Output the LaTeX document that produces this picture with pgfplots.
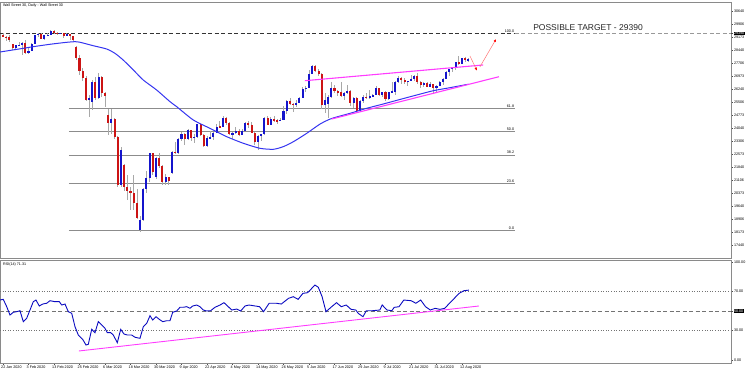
\documentclass[border=0pt]{standalone}
\usepackage{fontspec}
\setmainfont{Liberation Sans}
\usepackage{pgfplots}
\usepackage{pgfplotstable}
\pgfplotsset{compat=1.18}
\usetikzlibrary{arrows.meta}
\definecolor{bull}{HTML}{1414CC}
\definecolor{bear}{HTML}{CC1414}
\definecolor{wick}{HTML}{A8A8A8}
\definecolor{mablue}{HTML}{3535F0}
\definecolor{rsiblue}{HTML}{0A0AC0}
\definecolor{pinkl}{HTML}{FF3CFF}
\definecolor{fibgray}{HTML}{8C8C8C}
\definecolor{framegray}{HTML}{8A8A8A}
\newcommand{\tinyf}{\fontsize{3.7}{4.2}\selectfont}

\pgfplotstableread{
i O H L C
0 29300 29390 29160 29190
1 29190 29240 28980 29160
2 29160 29280 28900 28990
3 28800 28820 28440 28560
4 28560 28760 28520 28720
5 28720 28880 28680 28740
6 28740 28890 28170 28860
7 28860 28990 28200 28260
8 28260 28560 28250 28400
9 28400 28840 28400 28810
10 28810 29320 28800 29290
11 29290 29410 29200 29380
12 29380 29390 29050 29100
13 29100 29300 29020 29280
14 29280 29420 29230 29290
15 29290 29570 29280 29550
16 29550 29560 29350 29420
17 29420 29460 29310 29400
18 29400 29440 29370 29410
19 29410 29420 29140 29230
20 29230 29410 29230 29350
21 29350 29380 29030 29220
22 29220 29230 28940 28990
23 28640 28700 27900 28000
24 28000 28150 27050 27250
25 27250 27450 26700 26850
26 26850 27000 25550 25650
27 25650 25900 24680 25720
28 25500 26750 25050 26650
29 26650 26900 25650 25750
30 25750 27150 25700 26950
31 26950 27000 25800 26000
32 26000 26100 25230 25850
33 24780 25100 23650 24320
34 24320 25100 23700 24550
35 24550 24600 23400 23560
36 23560 23600 20700 20850
37 20850 23000 20700 22800
38 21950 22000 20500 20730
39 20730 21390 19980 20500
40 20500 20700 19400 20360
41 20360 21390 19410 19790
42 19790 20600 18900 18950
43 18300 19100 18190 18850
44 18850 20650 18800 20580
45 20580 21600 20400 21200
46 21200 22650 21000 22610
47 22610 22650 21400 21580
48 21250 22400 21150 22330
49 22330 22650 21800 21920
50 21920 21950 20800 21000
51 21000 21450 20800 21250
52 21250 21300 20850 21050
53 21500 22750 21450 22700
54 22700 23250 22600 22650
55 22650 23470 22550 23440
56 23440 23840 23300 23720
57 23720 23750 23080 23400
58 23400 24000 23350 23950
59 23950 23960 23300 23500
60 23500 23700 23200 23550
61 23550 24300 23500 24250
62 24250 24270 23600 23650
63 23650 23700 22950 23020
64 23020 23600 23000 23480
65 23480 23900 23400 23520
66 23520 23800 23350 23780
67 23780 24250 23780 24130
68 24130 24450 24050 24100
69 24100 24700 24080 24630
70 24630 24640 24200 24350
71 24350 24360 23650 23720
72 23720 23800 23400 23750
73 23750 24100 23700 23880
74 23880 24000 23600 23660
75 23660 24000 23650 23880
76 23880 24400 23870 24330
77 24330 24420 24050 24220
78 24220 24400 23750 23760
79 23760 23800 23100 23250
80 23250 23650 22800 23620
81 23620 23700 23300 23680
82 23680 24650 23650 24600
83 24600 24750 24200 24210
84 24210 24650 24200 24580
85 24580 24720 24380 24470
86 24470 24550 24250 24460
87 24460 24600 24440 24520
88 24520 25300 24500 25000
89 25000 25600 24850 25550
90 25550 25750 25350 25400
91 25400 25450 24950 25380
92 25380 25600 25250 25480
93 25480 25800 25450 25740
94 25740 26350 25740 26270
95 26270 26400 26100 26290
96 26290 27300 26280 27110
97 27110 27600 27100 27570
98 27570 27580 27200 27270
99 27270 27400 27000 27100
100 27100 27150 25100 25350
101 25350 26000 24900 25600
102 25400 25900 24600 25780
103 25780 26650 25750 26300
104 26300 26450 26050 26120
105 26120 26200 25850 26080
106 26080 26650 25800 25870
107 25870 26100 25650 26020
108 26020 26450 25950 26160
109 26160 26180 25300 25450
110 25450 25780 25200 25750
111 25750 25780 24980 25020
112 25020 25600 24950 25590
113 25590 25900 25450 25810
114 25810 26000 25700 25740
115 25740 26200 25700 25830
116 25830 25950 25800 25900
117 25900 26400 25900 26290
118 26290 26300 25880 25890
119 25890 26100 25800 26070
120 26070 26150 25550 25710
121 25710 26100 25600 26080
122 26080 26650 26000 26090
123 26090 26700 25900 26640
124 26640 27000 26600 26870
125 26870 26900 26550 26740
126 26740 26850 26550 26670
127 26670 26720 26400 26690
128 26690 27050 26690 26840
129 26840 27050 26700 27000
130 27000 27150 26550 26650
131 26650 26700 26300 26470
132 26470 26650 26350 26590
133 26590 26650 26350 26380
134 26380 26650 26350 26540
135 26540 26550 26050 26310
136 26310 26450 26000 26430
137 26430 26700 26400 26660
138 26660 26850 26500 26830
139 26830 27250 26820 27200
140 27200 27400 27000 27390
141 27390 27450 27200 27430
142 27430 27800 27350 27790
143 27790 28100 27600 27690
144 27690 28000 27650 27980
145 27980 28050 27800 27900
146 27900 27980 27750 27930
}\candles

\begin{document}
\begin{tikzpicture}
\path[use as bounding box] (0,0) rectangle (750pt,372pt);
% ---------------- main price panel ----------------
\begin{axis}[
  at={(0pt,114pt)}, anchor=south west, scale only axis,
  width=731pt, height=256pt,
  xmin=-0.941, xmax=228.39, ymin=16701, ymax=31165,
  axis line style={draw=framegray, line width=0.8pt},
  xtick=\empty,
  scaled y ticks=false, scaled x ticks=false,
  ytick={17440,18173,18906,19640,20373,21106,21840,22573,23306,24040,24773,25506,26240,26973,27706,28440,29173,29906,30640},
  yticklabels={17440,18173,18906,19640,20373,21106,21840,22573,23306,24040,24773,25506,26240,26973,27706,28440,29173,29906,30640},
  ytick pos=right, yticklabel pos=right,
  tick align=outside, major tick length=2pt,
  tick style={draw=black!70, line width=0.4pt},
  yticklabel style={font=\tinyf, inner sep=0.5pt, xshift=0.3pt},
  extra y ticks={29390}, extra y tick labels={29390},
  extra y tick style={tick label style={fill=black, text=white}},
]
% Fibonacci levels
\addplot[fibgray, line width=0.6pt, forget plot] coordinates {(20.7,25150) (160.6,25150)};
\addplot[fibgray, line width=0.6pt, forget plot] coordinates {(20.7,23840) (160.6,23840)};
\addplot[fibgray, line width=0.6pt, forget plot] coordinates {(20.7,22530) (160.6,22530)};
\addplot[fibgray, line width=0.6pt, forget plot] coordinates {(20.7,20910) (160.6,20910)};
\addplot[fibgray, line width=0.6pt, forget plot] coordinates {(20.7,18290) (160.6,18290)};
\addplot[black!80, line width=0.6pt, dash pattern=on 4pt off 2.5pt, forget plot] coordinates {(-0.941,29390) (160.6,29390)};
\addplot[black!40, line width=0.6pt, dash pattern=on 4pt off 2.5pt, forget plot] coordinates {(160.6,29390) (228.39,29390)};
% wicks
\addplot[draw=none, mark=none, forget plot,
  error bars/.cd, y dir=both, y explicit, error mark=none,
  error bar style={draw=wick, line width=0.7pt, solid}]
  table[x=i, y expr={(\thisrow{H}+\thisrow{L})/2}, y error expr={(\thisrow{H}-\thisrow{L})/2}] {\candles};
% bull bodies
\addplot[draw=none, mark=none, forget plot,
  restrict expr to domain={\thisrow{C}-\thisrow{O}}{0:100000},
  error bars/.cd, y dir=both, y explicit, error mark=none,
  error bar style={draw=bull, line width=2.1pt, solid, line cap=butt}]
  table[x=i, y expr={(\thisrow{O}+\thisrow{C})/2}, y error expr={max(abs(\thisrow{C}-\thisrow{O})/2,30)}] {\candles};
% bear bodies
\addplot[draw=none, mark=none, forget plot,
  restrict expr to domain={\thisrow{C}-\thisrow{O}}{-100000:-0.5},
  error bars/.cd, y dir=both, y explicit, error mark=none,
  error bar style={draw=bear, line width=2.1pt, solid, line cap=butt}]
  table[x=i, y expr={(\thisrow{O}+\thisrow{C})/2}, y error expr={max(abs(\thisrow{C}-\thisrow{O})/2,30)}] {\candles};
% moving average
\addplot[mablue, line width=1pt, smooth, tension=0.4] coordinates {
(-0.94,28340) (6.4,28549) (9.5,28640) (14.7,28775) (20,28888) (22.6,28922) (24.2,28888)
(28.3,28696) (32.5,28510) (35.1,28267) (37.7,27888) (40.9,27323) (44,26758) (48.2,26193)
(52.4,25532) (54.5,25249) (59.7,24498) (64.9,24029) (70.2,23554) (75.4,23182) (80.6,22899)
(84.8,22843) (87.9,22990) (91.1,23272) (95.3,23747) (99.5,24272) (103.1,24583) (108.9,24876)
(114.1,25159) (119.3,25402) (124.5,25656) (129.8,25911) (135,26153) (140.2,26323) (146,26520)};
% trend lines
\addplot[pinkl, line width=1.1pt] coordinates {(94.7,26718) (150.6,27606)};
\addplot[pinkl, line width=1.1pt] coordinates {(103.1,24554) (155.6,26944)};
% arrows
\addplot[red!55, line width=0.5pt, -{Latex[length=3pt,width=2.6pt,color=red]}] coordinates {(146.5,28114) (148.7,27284)};
\addplot[red!55, line width=0.5pt, -{Latex[length=3pt,width=2.6pt,color=red]}] coordinates {(149.6,27492) (154.7,29074)};
% labels
\node[font=\tinyf, anchor=south east, inner sep=0.6pt] at (axis cs:160.6,29390) {100.0};
\node[font=\tinyf, anchor=south east, inner sep=0.6pt] at (axis cs:160.6,25150) {61.8};
\node[font=\tinyf, anchor=south east, inner sep=0.6pt] at (axis cs:160.6,23840) {50.0};
\node[font=\tinyf, anchor=south east, inner sep=0.6pt] at (axis cs:160.6,22530) {38.2};
\node[font=\tinyf, anchor=south east, inner sep=0.6pt] at (axis cs:160.6,20910) {23.6};
\node[font=\tinyf, anchor=south east, inner sep=0.6pt] at (axis cs:160.6,18290) {0.0};
\node[font=\fontsize{8.5}{10}\selectfont, text=black!85, anchor=base west, inner sep=0pt] at (axis cs:166.3,29527) {POSSIBLE TARGET - 29390};
\node[font=\tinyf, anchor=west, inner sep=0pt] at (rel axis cs:0.004,0.988) {Wall Street 30, Daily : Wall Street 30};
\end{axis}
% ---------------- RSI panel ----------------
\begin{axis}[
  at={(0pt,9pt)}, anchor=south west, scale only axis,
  width=731pt, height=103pt,
  xmin=-0.941, xmax=228.39, ymin=-3.06, ymax=102.04,
  axis line style={draw=framegray, line width=0.8pt},
  scaled y ticks=false, scaled x ticks=false,
  xtick={0,8,...,144},
  xticklabels={22 Jan 2020,3 Feb 2020,13 Feb 2020,25 Feb 2020,6 Mar 2020,18 Mar 2020,30 Mar 2020,9 Apr 2020,22 Apr 2020,4 May 2020,14 May 2020,26 May 2020,5 Jun 2020,17 Jun 2020,29 Jun 2020,9 Jul 2020,21 Jul 2020,31 Jul 2020,12 Aug 2020},
  xtick pos=left,
  xticklabel style={font=\tinyf, anchor=north west, xshift=-2.5pt, inner sep=0.5pt},
  ytick={0,30,70,100}, yticklabels={0.00,30.00,70.00,100.00},
  ytick pos=right, yticklabel pos=right,
  tick align=outside, major tick length=2pt,
  tick style={draw=black!70, line width=0.4pt},
  yticklabel style={font=\tinyf, inner sep=0.5pt, xshift=0.3pt},
  extra y ticks={50}, extra y tick labels={50.00},
  extra y tick style={tick label style={fill=black, text=white}},
]
\addplot[black!55, dotted, line width=0.6pt, forget plot] coordinates {(-0.941,70) (228.39,70)};
\addplot[black!55, dotted, line width=0.6pt, forget plot] coordinates {(-0.941,30) (228.39,30)};
\addplot[black!55, dash pattern=on 4pt off 2.5pt, line width=0.7pt, forget plot] coordinates {(-0.941,50) (228.39,50)};
\addplot[pinkl, line width=0.9pt] coordinates {(23.8,9.2) (149.3,55.1)};
\addplot[rsiblue, line width=0.9pt] coordinates {
(-0.94,61.2) (0.09,61.9) (1.16,54.4) (2.2,45.9) (3.23,48.7) (4.3,49.3) (5.33,50.3) (6.37,39.1)
(7.44,42.6) (8.47,51.0) (9.5,59.5) (10.35,61.2) (11.39,55.1) (12.45,57.1) (13.71,57.9) (14.75,60.5)
(16.31,59.5) (17.66,59.5) (18.42,56.1) (19.45,57.1) (20.49,49.3) (21.55,47.7) (22.59,34.0) (23.62,25.5)
(25.0,21.1) (26.04,15.3) (26.76,16.0) (27.83,31.3) (28.86,27.9) (29.9,39.1) (30.96,35.7) (32.0,32.3)
(32.72,27.9) (33.79,27.9) (34.6,25.5) (35.86,17.7) (36.93,31.3) (37.96,26.5) (39.0,25.5) (40.38,25.5)
(41.41,23.2) (42.98,22.1) (44.02,34.0) (45.08,37.4) (46.12,45.2) (46.96,40.8) (48.0,44.2) (49.03,41.5)
(50.1,39.1) (51.36,40.1) (52.39,40.1) (53.24,48.7) (54.49,50.0) (55.53,53.8) (56.56,53.8) (57.63,54.4)
(58.67,52.8) (59.51,55.1) (60.77,56.1) (61.8,54.4) (62.84,51.0) (63.91,50.0) (65.16,50.3) (66.51,53.8)
(68.08,56.1) (69.33,58.5) (70.68,54.4) (71.75,51.0) (73.32,52.0) (74.57,50.0) (75.92,55.1) (77.2,56.1)
(80.5,54.4) (81.73,49.3) (83.51,57.9) (85.77,57.9) (87.31,57.1) (89.57,62.9) (91.07,64.6) (92.58,61.9)
(94.09,68.0) (95.59,68.7) (97.85,76.5) (98.92,74.2) (100.11,64.6) (101.33,49.3) (103.12,54.4) (104.63,58.5)
(106.13,54.4) (107.67,56.1) (109.18,51.7) (110.68,51.0) (111.44,47.6) (112.94,44.2) (113.98,50.3) (115.95,50.3)
(118.21,51.0) (118.96,56.1) (120.47,51.0) (121.98,50.3) (122.73,53.7) (124.24,54.4) (125.74,61.2) (128.03,60.5)
(129.54,57.9) (131.04,61.2) (132.55,54.4) (134.05,51.0) (135.56,52.7) (137.07,51.7) (138.57,52.7) (140.08,57.9)
(141.58,62.9) (143.09,68.0) (144.6,70.7) (146.13,71.3)};
\node[font=\tinyf, anchor=west, inner sep=0pt] at (rel axis cs:0.004,0.96) {RSI(14) 71.31};
\end{axis}
\end{tikzpicture}
\end{document}
